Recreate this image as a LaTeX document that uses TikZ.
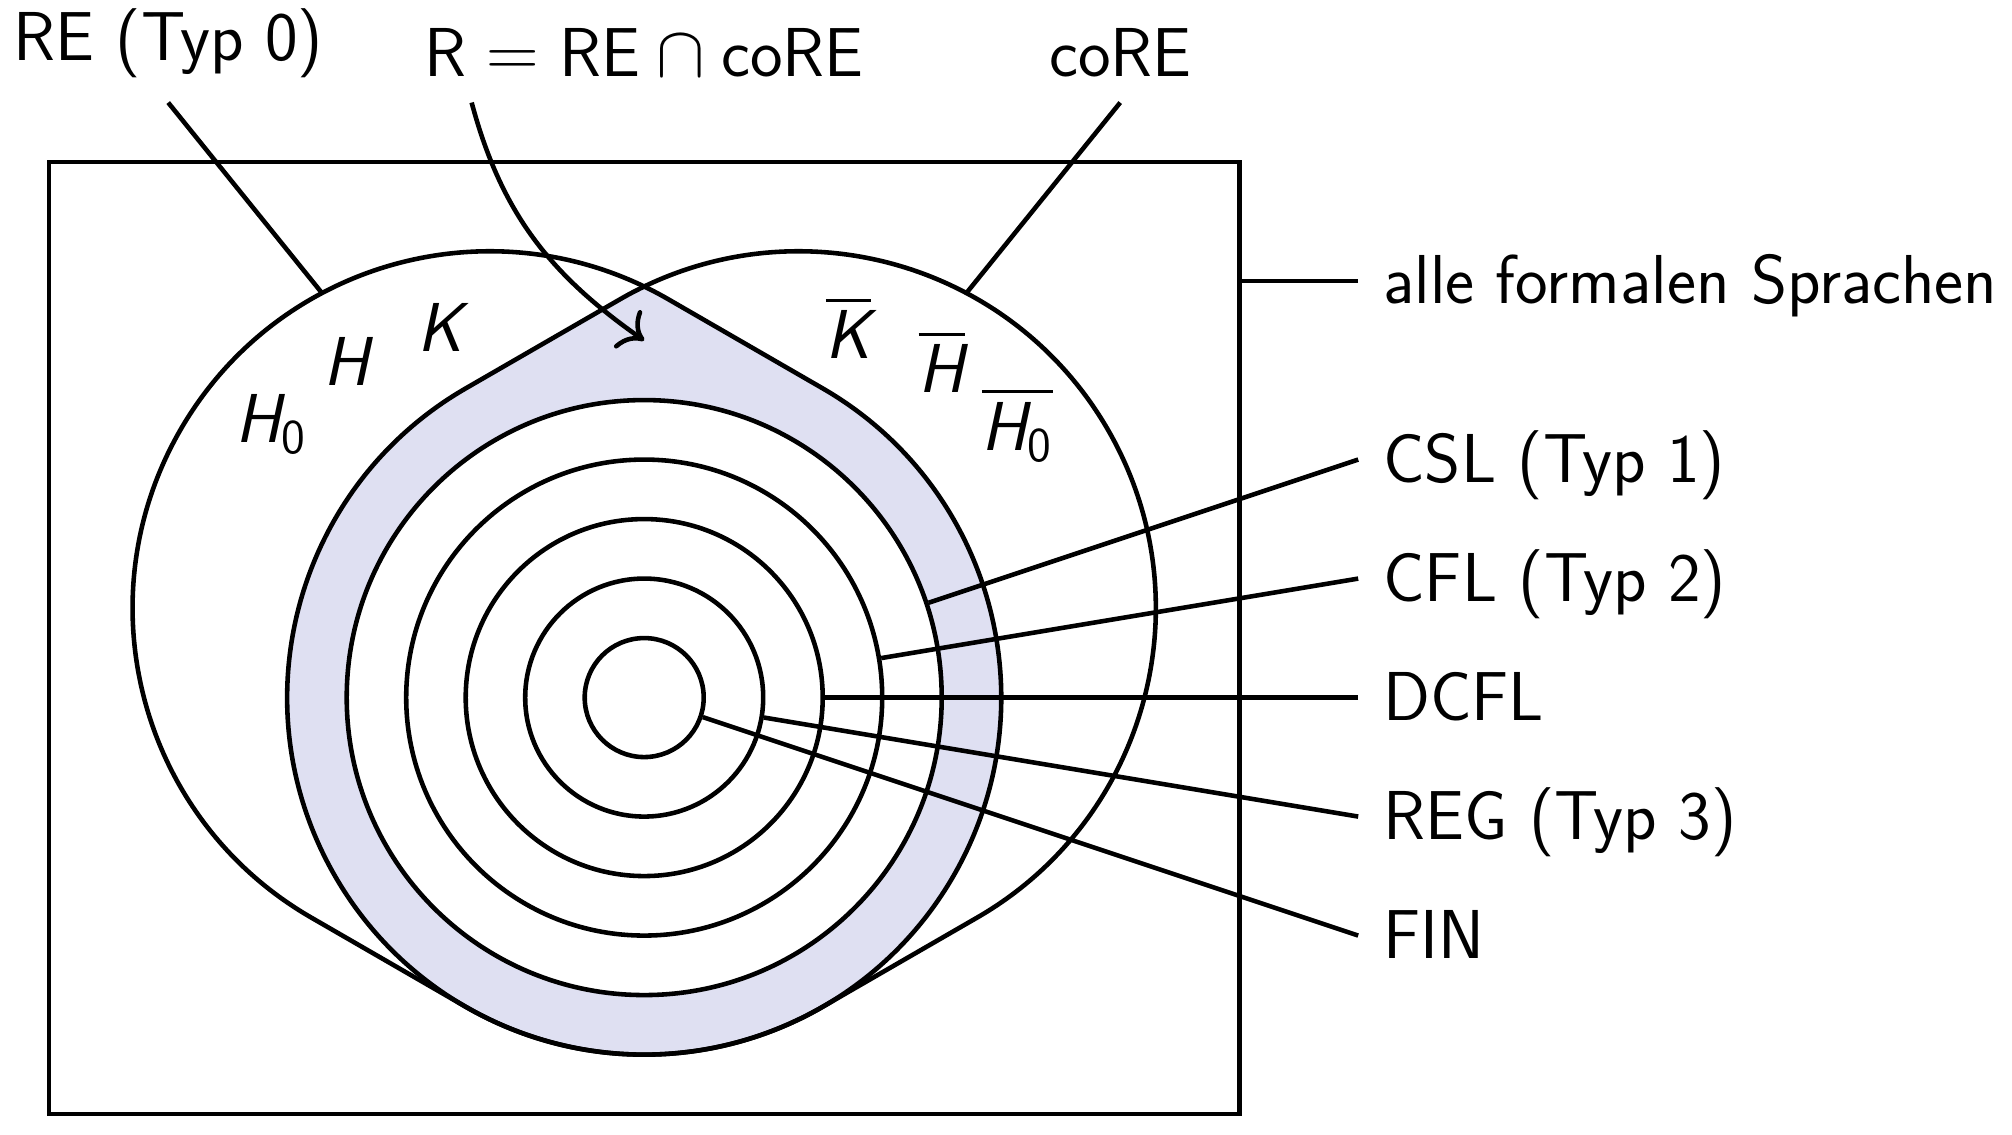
\documentclass[tikz,border=0pt]{standalone}
\usepackage{amsmath}
\usetikzlibrary{calc, arrows.meta}
\definecolor{rfill}{RGB}{223,224,242}
% outlines of RE and coRE (hull of the big circle with their own circle)
\newcommand{\hullRE}{(240:6) arc[start angle=240, end angle=420, radius=6] -- ($(150:3)+(60:6)$) arc[start angle=60, end angle=240, radius=6] -- cycle}
\newcommand{\hullcoRE}{(120:6) -- ($(30:3)+(120:6)$) arc[start angle=120, end angle=-60, radius=6] -- (-60:6) arc[start angle=-60, end angle=-240, radius=6] -- cycle}

\begin{document}
\begin{tikzpicture}[
        x=0.595cm, y=0.595cm, line width=1.3pt, inner sep=6.5pt,
        font=\fontsize{19.7}{24}\selectfont\sffamily,
        ring/.style={circle, draw, fill=white, inner sep=0pt, minimum size=#1},
        setlbl/.style={anchor=west, text height=13pt, text depth=0pt},
        toplbl/.style={anchor=south}
    ]
        \useasboundingbox (-10.827,-7.351) rectangle (22.988,11.724);

        % R = RE cap coRE
        \begin{scope}
            \clip \hullRE;
            \fill[rfill] \hullcoRE;
        \end{scope}

        \node[ring=5.95cm] (csl) at (0,0) {};
        \node[ring=4.76cm] (cfl) at (0,0) {};
        \node[ring=3.57cm] (dcfl) at (0,0) {};
        \node[ring=2.38cm] (reg) at (0,0) {};
        \node[ring=1.19cm] (fin) at (0,0) {};

        \draw \hullRE;
        \draw \hullcoRE;

        \node[draw, minimum width=11.9cm, minimum height=9.52cm] (univ) at (0,1) {};

        % sprachen innen
        \node (h0) at ($(150:3)+(140:4.8)$) {$\textsf{\itshape H}_{\textsf{0}}$};
        \node (h) at ($(150:3)+(120:4.8)$) {$\textsf{\itshape H}$};
        \node (k) at ($(150:3)+(100:4.8)$) {$\textsf{\itshape K}$};
        \node (kco) at ($(30:3)+(80:4.8)$) {$\overline{\textsf{\itshape K}}$};
        \node (hco) at ($(30:3)+(60:4.8)$) {$\overline{\textsf{\itshape H}}$};
        \node (h0co) at ($(30:3)+(40:4.8)$) {$\overline{\textsf{\itshape H}_{\textsf{0}}}$};

        % oben
        \node[toplbl] (relbl) at (-8,10) {RE (Typ 0)};
        \node[toplbl] (rlbl) at (0,10) {$\textsf{R} = \textsf{RE} \cap \textsf{coRE}$};
        \node[toplbl] (corelbl) at (8,10) {coRE};
        \coordinate (retouch) at ($(150:3)+(118:6)$);
        \coordinate (coretouch) at ($(30:3)+(62:6)$);
        \coordinate (rstart) at (-2.9,10);
        \coordinate (rtip) at (0,6);
        \draw (relbl.south) -- (retouch);
        \draw (corelbl.south) -- (coretouch);
        \draw[-{To[scale=1.4]}] (rstart) to[out=-75, in=145] (rtip);

        % rechts
        \node[setlbl] (alllbl) at (12,7) {alle formalen Sprachen};
        \node[setlbl] (csllbl) at (12,4) {CSL (Typ 1)};
        \node[setlbl] (cfllbl) at (12,2) {CFL (Typ 2)};
        \node[setlbl] (dcfllbl) at (12,0) {DCFL};
        \node[setlbl] (reglbl) at (12,-2) {REG (Typ 3)};
        \node[setlbl] (finlbl) at (12,-4) {FIN};

        \draw (alllbl.west) -- (alllbl.west -| univ.east);
        \draw (csllbl.west) -- (csl);
        \draw (cfllbl.west) -- (cfl);
        \draw (dcfllbl.west) -- (dcfl);
        \draw (reglbl.west) -- (reg);
        \draw (finlbl.west) -- (fin);
    \end{tikzpicture}
\end{document}
